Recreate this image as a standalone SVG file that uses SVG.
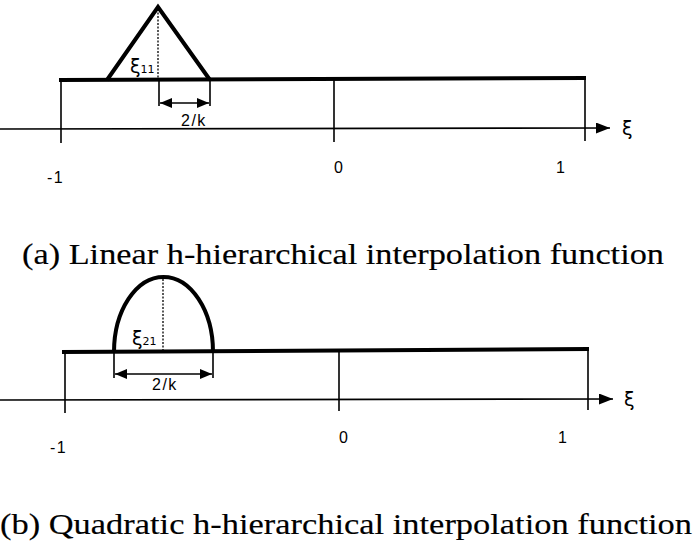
<svg xmlns="http://www.w3.org/2000/svg" width="696" height="547" viewBox="0 0 696 547">
<defs>
<style>
.thick{stroke:#000;stroke-width:4;fill:none;stroke-linecap:butt}
.thin{stroke:#000;stroke-width:1.6;fill:none}
.dot{stroke:#000;stroke-width:1.3;fill:none;stroke-dasharray:2 1.5}
.lbl{font-family:"Liberation Sans",Arial,sans-serif;font-size:16px;letter-spacing:1.5px;fill:#000}
.xi{font-family:"DejaVu Sans","Liberation Sans",sans-serif;font-size:19px;fill:#000}
.cap{font-family:"Liberation Serif","Times New Roman",serif;font-size:29px;fill:#000;stroke:#000;stroke-width:0.15}
</style>
<marker id="ah" viewBox="0 0 12 10" refX="12" refY="5" markerWidth="12" markerHeight="10" markerUnits="userSpaceOnUse" orient="auto-start-reverse">
<path d="M0,0 L12,5 L0,10 Z" fill="#000"/>
</marker>
<marker id="ax" viewBox="0 0 14 11" refX="14" refY="5.5" markerWidth="14" markerHeight="11" markerUnits="userSpaceOnUse" orient="auto">
<path d="M0,0 L14,5.5 L0,11 Z" fill="#000"/>
</marker>
</defs>
<rect width="696" height="547" fill="#fff"/>

<g id="diagram-a">
<g id="axis-a">
<line class="thin" x1="0" y1="129" x2="610" y2="128" marker-end="url(#ax)"/>
<text class="xi" x="622" y="135">ξ</text>
<line class="thin" x1="61" y1="80" x2="61" y2="143"/>
<line class="thin" x1="334" y1="79" x2="334" y2="142"/>
<line class="thin" x1="585" y1="78" x2="585" y2="141"/>
<text class="lbl" x="47" y="183">-1</text>
<text class="lbl" x="334" y="173">0</text>
<text class="lbl" x="556" y="173">1</text>
</g>
<g id="element-a">
<line class="thick" x1="59" y1="80" x2="586" y2="78"/>
</g>
<g id="shape-a">
<polyline class="thick" points="107,80 158,7 210,80" stroke-linejoin="miter"/>
<line class="dot" x1="158" y1="9" x2="158" y2="80"/>
<text class="xi" x="130" y="73" font-size="18">ξ<tspan font-size="11">11</tspan></text>
</g>
<g id="dim-a">
<line class="thin" x1="159" y1="80" x2="159" y2="106"/>
<line class="thin" x1="210" y1="80" x2="210" y2="106"/>
<line class="thin" x1="160" y1="103" x2="209" y2="103" marker-start="url(#ah)" marker-end="url(#ah)"/>
<text class="lbl" x="181" y="126">2/k</text>
</g>
<text class="cap" x="22" y="264" textLength="642" lengthAdjust="spacingAndGlyphs">(a) Linear h-hierarchical interpolation function</text>
</g>

<g id="diagram-b">
<g id="axis-b">
<line class="thin" x1="0" y1="400" x2="613" y2="399" marker-end="url(#ax)"/>
<text class="xi" x="624" y="406">ξ</text>
<line class="thin" x1="65" y1="352" x2="65" y2="413"/>
<line class="thin" x1="339" y1="350" x2="339" y2="411"/>
<line class="thin" x1="588" y1="349" x2="588" y2="410"/>
<text class="lbl" x="50" y="453">-1</text>
<text class="lbl" x="339" y="443">0</text>
<text class="lbl" x="558" y="443">1</text>
</g>
<g id="element-b">
<line class="thick" x1="62" y1="352" x2="589" y2="349"/>
</g>
<g id="shape-b">
<path class="thick" d="M114,352 A49.5,75 0 0 1 213,352"/>
<line class="dot" x1="163" y1="279" x2="163" y2="351"/>
<text class="xi" x="132" y="345" font-size="18">ξ<tspan font-size="11">21</tspan></text>
</g>
<g id="dim-b">
<line class="thin" x1="114" y1="352" x2="114" y2="378"/>
<line class="thin" x1="213" y1="352" x2="213" y2="378"/>
<line class="thin" x1="115" y1="374" x2="212" y2="374" marker-start="url(#ah)" marker-end="url(#ah)"/>
<text class="lbl" x="152" y="390">2/k</text>
</g>
<text class="cap" x="0" y="534" textLength="692" lengthAdjust="spacingAndGlyphs">(b) Quadratic h-hierarchical interpolation function</text>
</g>
</svg>
